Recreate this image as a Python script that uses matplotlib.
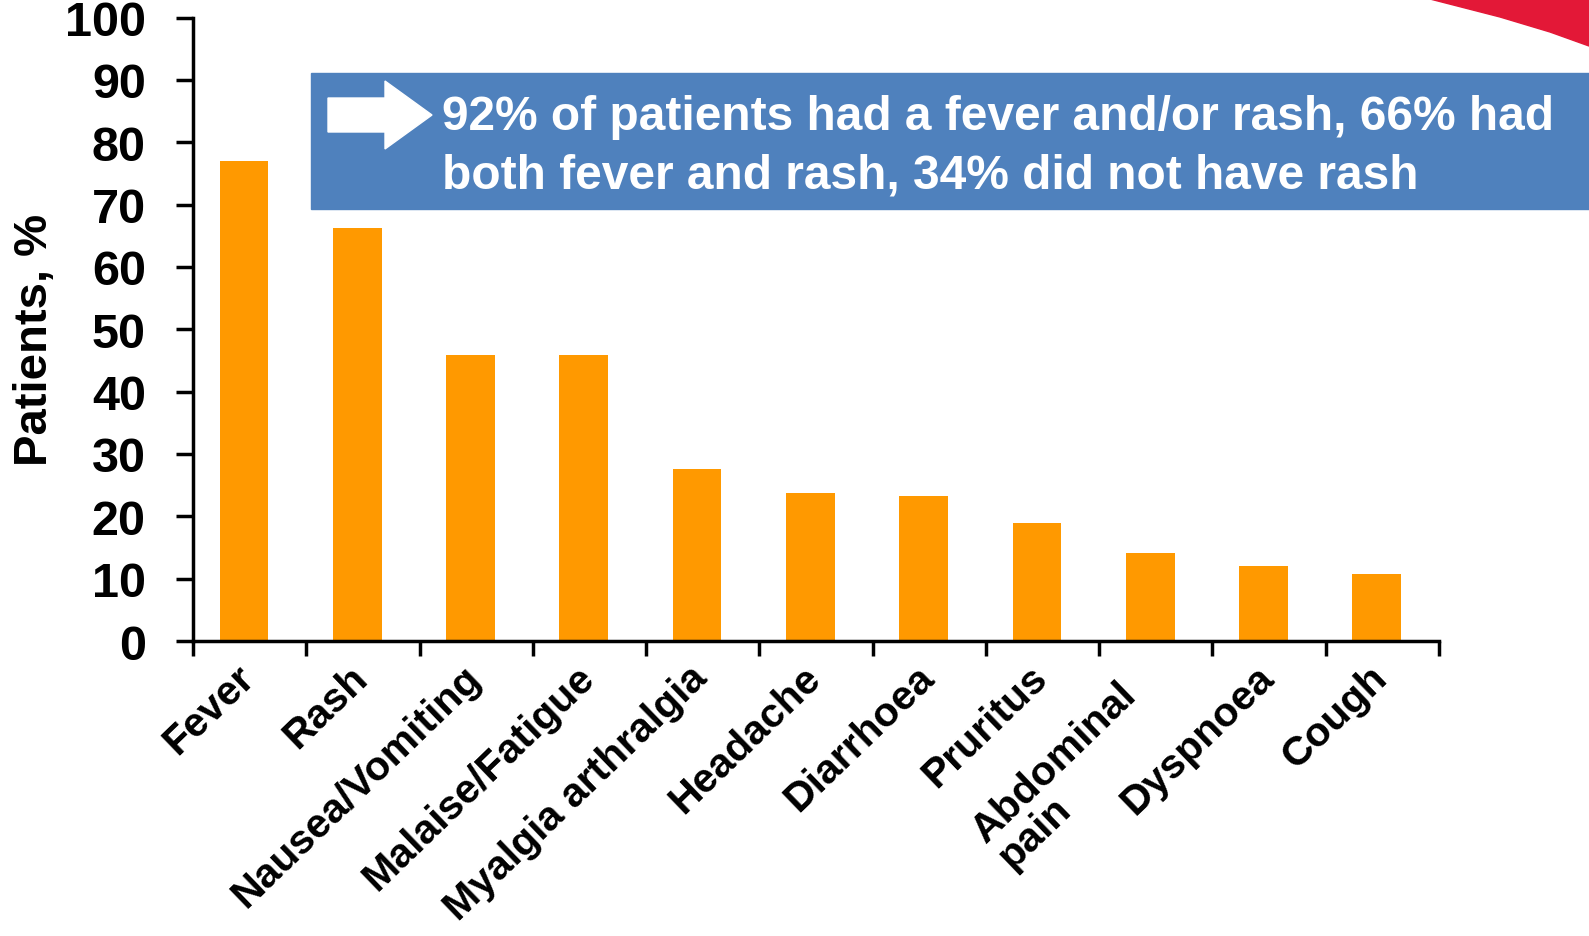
import matplotlib.pyplot as plt
from matplotlib.patches import Polygon, Rectangle
from matplotlib.transforms import ScaledTranslation
import numpy as np

plt.rcParams['font.family'] = ['Liberation Sans', 'DejaVu Sans']
plt.rcParams['font.weight'] = 'bold'

# Data
symptoms = ['Fever', 'Rash', 'Nausea/Vomiting', 'Malaise/Fatigue', 'Myalgia arthralgia',
            'Headache', 'Diarrhoea', 'Pruritus', 'Abdominal\npain', 'Dyspnoea', 'Cough']
patients_pct = [77.0, 66.3, 45.9, 45.9, 27.6, 23.7, 23.3, 19.0, 14.1, 12.0, 10.7]
y_ticks = [0, 10, 20, 30, 40, 50, 60, 70, 80, 90, 100]
note_lines = ['92% of patients had a fever and/or rash, 66% had',
              'both fever and rash, 34% did not have rash']

W, H = 1589, 937
fig = plt.figure(figsize=(W / 100, H / 100), dpi=100)
ax = fig.add_axes([193 / W, 1 - 642 / H, (1439 - 193) / W, (642 - 18.5) / H])

x = np.arange(len(symptoms))
ax.bar(x - 0.05, patients_pct, width=0.43, color='#FF9900', zorder=2)

ax.set_xlim(-0.5, len(symptoms) - 0.5)
ax.set_ylim(0, 100)
ax.set_yticks(y_ticks)
ax.tick_params(axis='y', labelsize=35, length=12, width=2.5, pad=22)

# boundary ticks between categories, labels at centres
ax.set_xticks(np.arange(len(symptoms) + 1) - 0.5)
ax.set_xticklabels([])
ax.tick_params(axis='x', which='major', length=11, width=2.5)
ax.set_xticks(x, minor=True)
ax.set_xticklabels(symptoms, minor=True, rotation=44, ha='right', va='center',
                   ma='left', rotation_mode='anchor', fontsize=29.5, linespacing=0.95)
ax.tick_params(axis='x', which='minor', length=0, pad=22)

# nudge labels a little left; the two-line one sits lower
for lbl in ax.get_xticklabels(minor=True):
    dx, dy = -1, 0
    if '\n' in lbl.get_text():
        dx, dy = -9, -21
    lbl.set_transform(lbl.get_transform() + ScaledTranslation(dx / 72, dy / 72, fig.dpi_scale_trans))

for s in ['top', 'right']:
    ax.spines[s].set_visible(False)
for s in ['left', 'bottom']:
    ax.spines[s].set_linewidth(2.5)

ax.set_ylabel('Patients, %', fontsize=34, fontweight='bold')
ax.yaxis.set_label_coords(-0.109, 0.485)

# blue callout box with white arrow
fig.patches.append(Rectangle((311 / W, 1 - 210 / H), (W - 311) / W, 136 / H,
                             transform=fig.transFigure, color='#4F81BD', zorder=3))
arrow = [(328, 99), (385, 99), (385, 82), (432, 116), (385, 150), (385, 133), (328, 133)]
fig.patches.append(Polygon([(px / W, 1 - py / H) for px, py in arrow], closed=True,
                           transform=fig.transFigure, color='white', zorder=4))
for line, base in zip(note_lines, [130, 188]):
    fig.text(442 / W, 1 - base / H, line, color='white', fontsize=34.5,
             fontweight='bold', va='baseline', ha='left', zorder=5)

# red swoosh in top right corner
swoosh = [(1430, 0), (1500, 18), (1550, 33), (1589, 47), (1589, 0)]
fig.patches.append(Polygon([(px / W, 1 - py / H) for px, py in swoosh], closed=True,
                           transform=fig.transFigure, color='#E31837', zorder=3))

plt.savefig('out.png', dpi=100)
